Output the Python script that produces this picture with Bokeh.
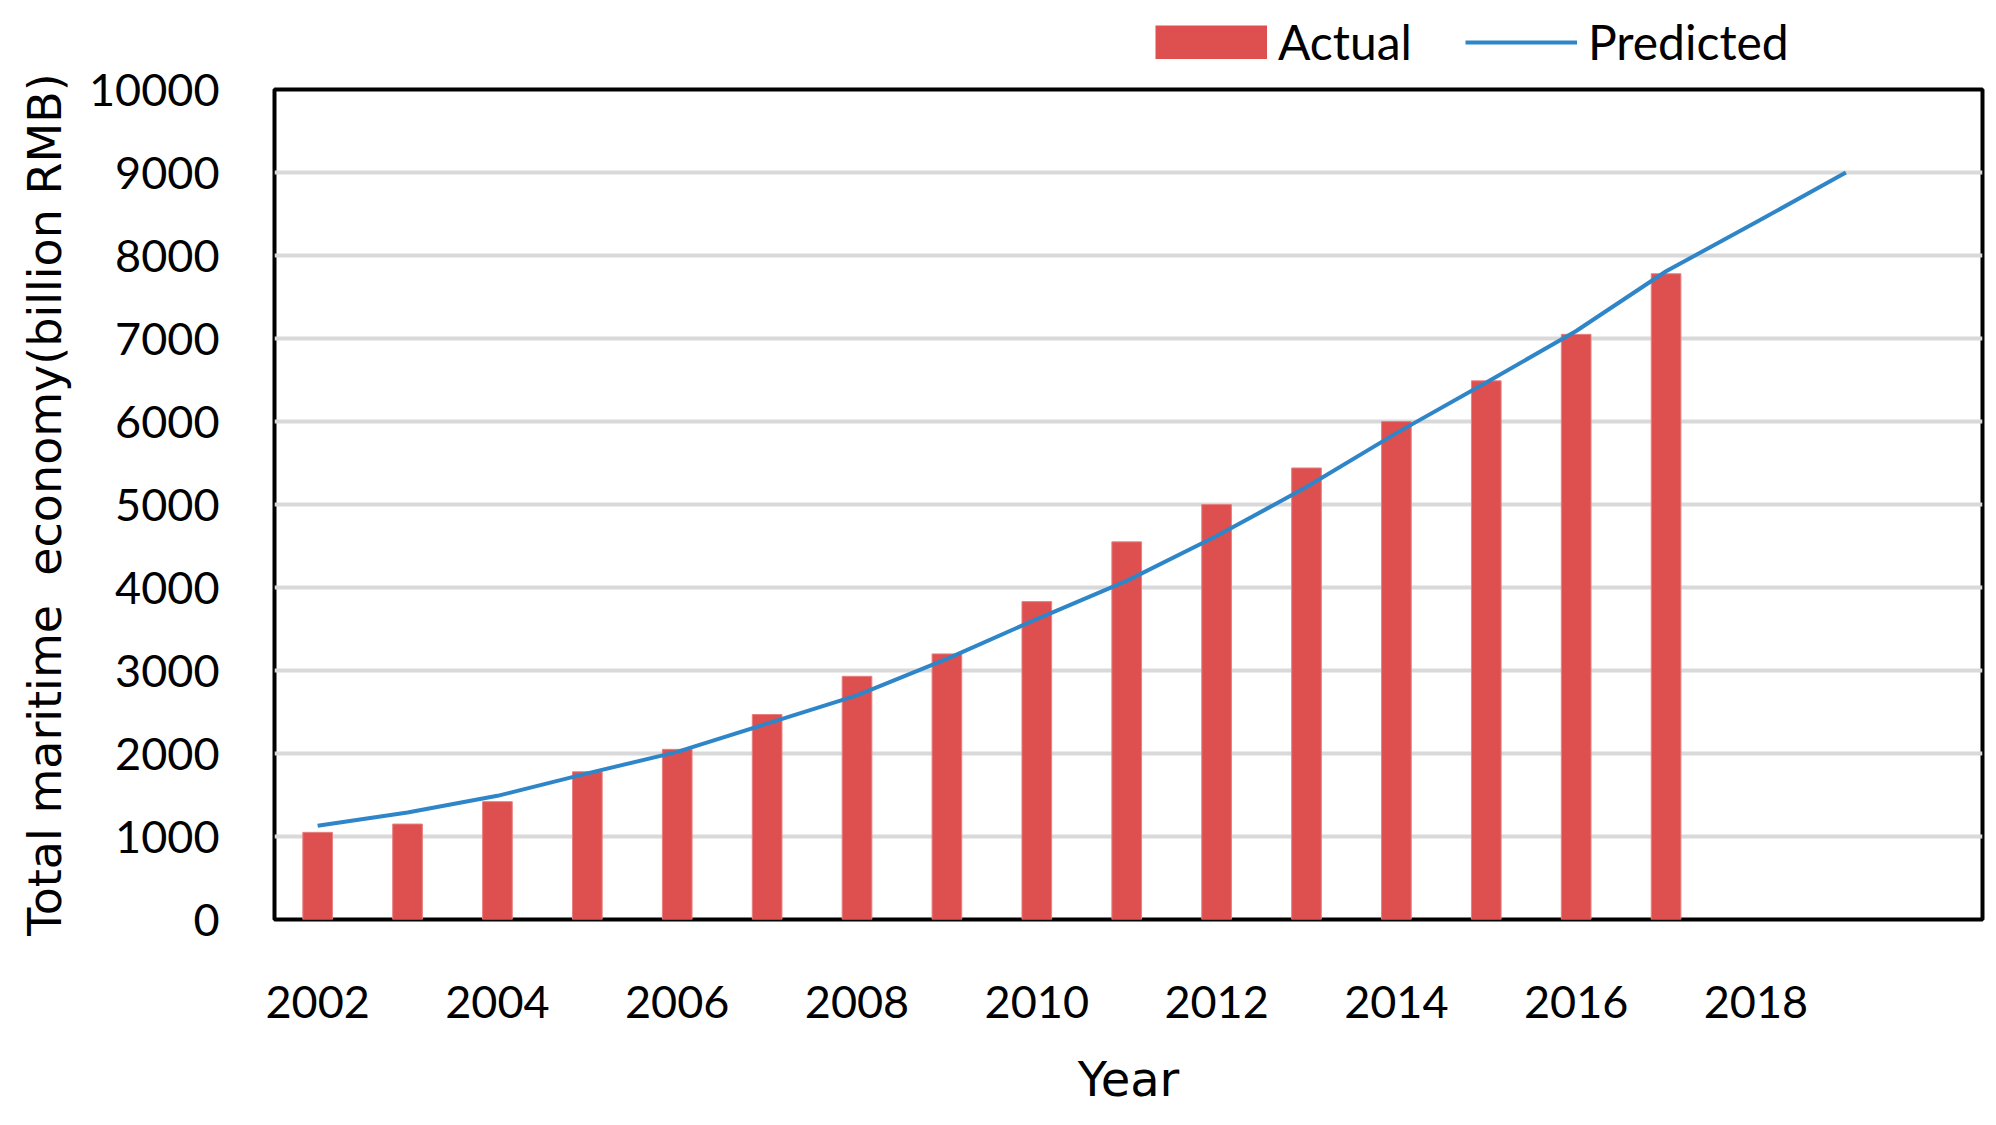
from bokeh.plotting import figure
from bokeh.layouts import column
from bokeh.models import Range1d, Legend, LegendItem, FixedTicker, ColumnDataSource
from bokeh.embed import file_html
from bokeh.resources import INLINE

years_actual = [2002, 2003, 2004, 2005, 2006, 2007, 2008, 2009, 2010,
                2011, 2012, 2013, 2014, 2015, 2016, 2017]
actual = [1050, 1150, 1420, 1780, 2050, 2470, 2930, 3200, 3830,
          4550, 5000, 5440, 6000, 6490, 7050, 7780]

years_pred = [2002, 2003, 2004, 2005, 2006, 2007, 2008, 2009, 2010,
              2011, 2012, 2013, 2014, 2015, 2016, 2017, 2018, 2019]
predicted = [1130, 1290, 1490, 1760, 2020, 2360, 2700, 3140, 3620,
             4080, 4620, 5210, 5860, 6470, 7090, 7810, 8400, 9000]

x_ticks = [2002, 2004, 2006, 2008, 2010, 2012, 2014, 2016, 2018]
y_ticks = [0, 1000, 2000, 3000, 4000, 5000, 6000, 7000, 8000, 9000, 10000]

BAR_COLOR = "#DE5050"
BAR_EDGE = "#E88080"
LINE_COLOR = "#2E86C8"
font = "Lato"

src_a = ColumnDataSource(dict(x=years_actual, top=actual))
src_p = ColumnDataSource(dict(x=years_pred, y=predicted))

# main chart
p = figure(width=1988, height=1047, output_backend="svg", toolbar_location=None,
           x_range=Range1d(2001.52, 2020.52), y_range=Range1d(0, 10000),
           min_border_left=274, min_border_right=6, min_border_top=19,
           min_border_bottom=198)

p.vbar(x="x", top="top", width=0.33, bottom=0, source=src_a,
       fill_color=BAR_COLOR, line_color=BAR_EDGE, line_width=1)
p.line(x="x", y="y", source=src_p, line_color=LINE_COLOR, line_width=4)

p.outline_line_color = "black"
p.outline_line_width = 4

p.xgrid.visible = False
p.ygrid.grid_line_color = "#D9D9D9"
p.ygrid.grid_line_width = 4
p.ygrid.ticker = FixedTicker(ticks=y_ticks)

for ax in (p.xaxis, p.yaxis):
    ax.axis_line_color = None
    ax.major_tick_line_color = None
    ax.minor_tick_line_color = None
    ax.major_label_text_font = font
    ax.major_label_text_font_size = "45px"
    ax.major_label_text_color = "black"
    ax.axis_label_text_font = "DejaVu Sans"
    ax.axis_label_text_font_style = "normal"
    ax.axis_label_text_color = "black"

p.xaxis.axis_label_text_font_size = "48px"
p.yaxis.axis_label_text_font_size = "46px"
p.xaxis.ticker = FixedTicker(ticks=x_ticks)
p.yaxis.ticker = FixedTicker(ticks=y_ticks)
p.xaxis.major_label_standoff = 60
p.yaxis.major_label_standoff = 49
p.xaxis.axis_label = "Year"
p.yaxis.axis_label = "Total maritime \u00a0economy(billion RMB)"
p.xaxis.axis_label_standoff = 30
p.yaxis.axis_label_standoff = 14

# legend strip above the chart (its y range keeps the shared data out of view)
lg = figure(width=1988, height=70, output_backend="svg", toolbar_location=None,
            x_range=Range1d(2001.52, 2020.52), y_range=Range1d(20000, 30000),
            min_border=0)
lg.axis.visible = False
lg.grid.visible = False
lg.outline_line_color = None
# swatch for the bars: a thick butt-capped stroke gives a full-size filled box
lb = lg.line(x="x", y="top", source=src_a, line_color=BAR_COLOR,
             line_width=34, line_cap="butt")
ll = lg.line(x="x", y="y", source=src_p, line_color=LINE_COLOR, line_width=4)

legend = Legend(items=[LegendItem(label="Actual", renderers=[lb]),
                       LegendItem(label="Predicted", renderers=[ll])],
                orientation="horizontal", location=(881, 0),
                glyph_width=112, glyph_height=34, label_standoff=11,
                spacing=53, padding=0, margin=0,
                label_text_font=font, label_text_font_size="48px",
                label_text_color="black",
                border_line_color=None, background_fill_alpha=0)
lg.add_layout(legend, "center")

layout = column(lg, p, spacing=0)
open("out.html", "w").write(file_html(layout, INLINE))
